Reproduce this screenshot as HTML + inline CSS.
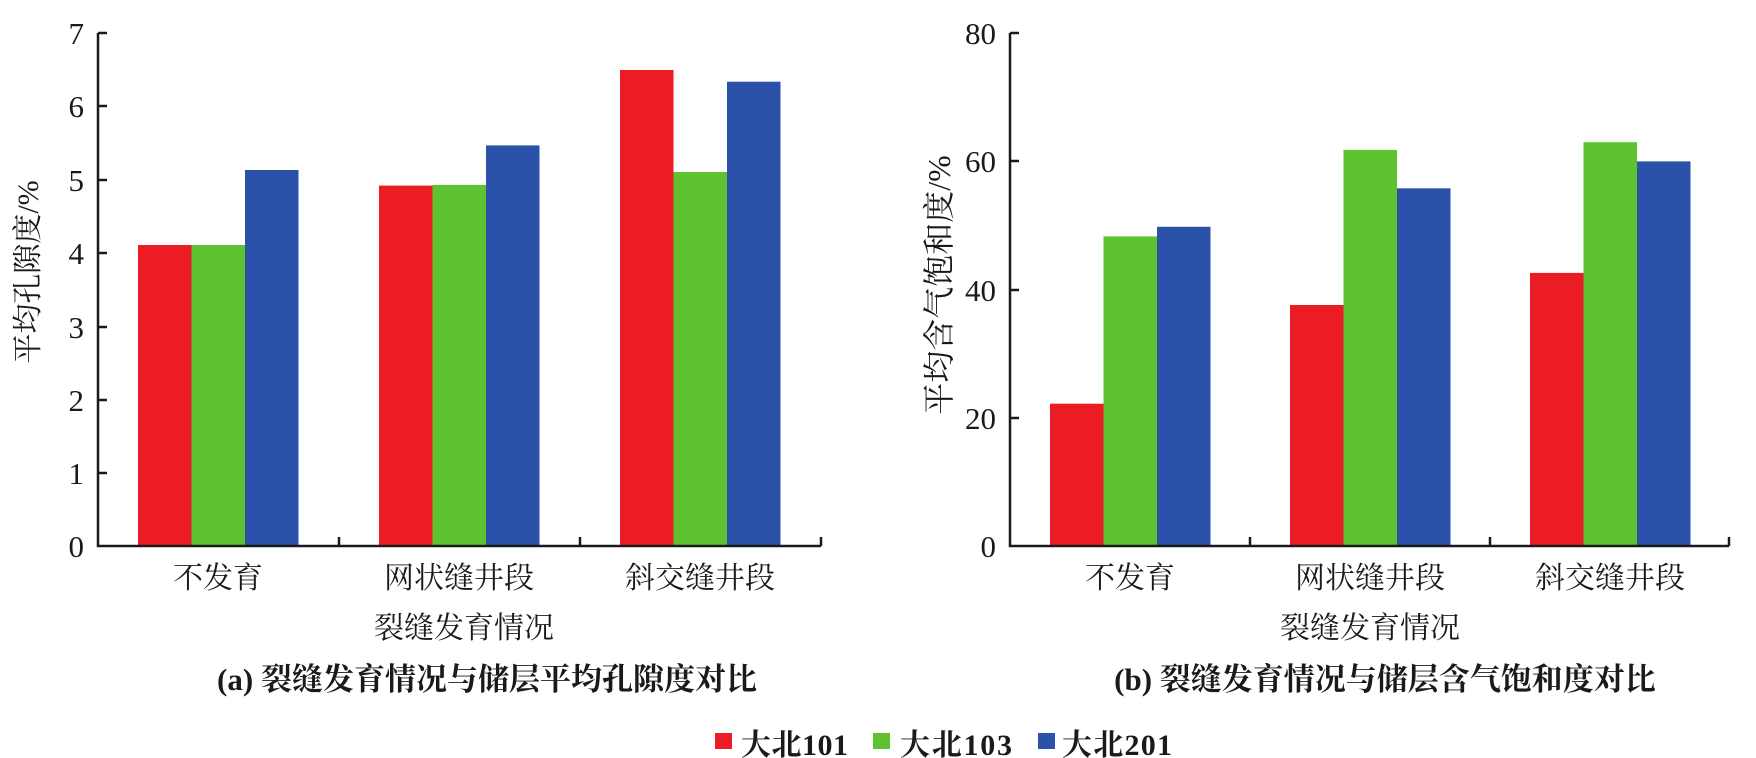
<!DOCTYPE html>
<html><head><meta charset="utf-8"><style>
body{margin:0;background:#fff}
svg{display:block}
text{font-family:"Liberation Serif","Noto Serif CJK SC",serif;fill:#1a1a1a}
</style></head><body>
<svg width="1756" height="758" viewBox="0 0 1756 758" xmlns="http://www.w3.org/2000/svg">
<g>
<rect x="138" y="245" width="53.5" height="301" fill="#ec1c24"/>
<rect x="191.5" y="245" width="53.5" height="301" fill="#5fc231"/>
<rect x="245" y="170" width="53.5" height="376" fill="#2c51a8"/>
<rect x="379" y="185.6" width="53.5" height="360.4" fill="#ec1c24"/>
<rect x="432.5" y="184.9" width="53.5" height="361.1" fill="#5fc231"/>
<rect x="486" y="145.4" width="53.5" height="400.6" fill="#2c51a8"/>
<rect x="620" y="70" width="53.5" height="476" fill="#ec1c24"/>
<rect x="673.5" y="172" width="53.5" height="374" fill="#5fc231"/>
<rect x="727" y="81.7" width="53.5" height="464.3" fill="#2c51a8"/>
<path d="M98 33V546H821M98 33h9M98 106h9M98 180h9M98 253h9M98 327h9M98 400h9M98 473h9M339 546v-9M580 546v-9M821 546v-9" stroke="#1a1a1a" stroke-width="2.5" fill="none"/>
<g font-size="31" text-anchor="end">
<text x="84" y="44">7</text><text x="84" y="117">6</text><text x="84" y="191">5</text><text x="84" y="264">4</text><text x="84" y="338">3</text><text x="84" y="411">2</text><text x="84" y="484">1</text><text x="84" y="557">0</text>
</g>
<text transform="translate(38,272) rotate(-90)" font-size="30" text-anchor="middle">平均孔隙度/%</text>
<g font-size="30" text-anchor="middle">
<text x="218" y="588">不发育</text><text x="459" y="588">网状缝井段</text><text x="700" y="588">斜交缝井段</text>
<text x="464" y="638">裂缝发育情况</text>
<text x="487" y="690" font-weight="bold" font-size="31">(a) 裂缝发育情况与储层平均孔隙度对比</text>
</g>
</g>
<g>
<rect x="1050" y="403.7" width="53.5" height="142.3" fill="#ec1c24"/>
<rect x="1103.5" y="236.4" width="53.5" height="309.6" fill="#5fc231"/>
<rect x="1157" y="226.8" width="53.5" height="319.2" fill="#2c51a8"/>
<rect x="1290" y="305" width="53.5" height="241" fill="#ec1c24"/>
<rect x="1343.5" y="149.9" width="53.5" height="396.1" fill="#5fc231"/>
<rect x="1397" y="188.3" width="53.5" height="357.7" fill="#2c51a8"/>
<rect x="1530" y="272.9" width="53.5" height="273.1" fill="#ec1c24"/>
<rect x="1583.5" y="142.2" width="53.5" height="403.8" fill="#5fc231"/>
<rect x="1637" y="161.4" width="53.5" height="384.6" fill="#2c51a8"/>
<path d="M1010 33V546H1729M1010 33h9M1010 161h9M1010 290h9M1010 418h9M1250 546v-9M1490 546v-9M1729 546v-9" stroke="#1a1a1a" stroke-width="2.5" fill="none"/>
<g font-size="31" text-anchor="end">
<text x="996" y="44">80</text><text x="996" y="172">60</text><text x="996" y="301">40</text><text x="996" y="429">20</text><text x="996" y="557">0</text>
</g>
<text transform="translate(950,285) rotate(-90)" font-size="32" text-anchor="middle">平均含气饱和度/%</text>
<g font-size="30" text-anchor="middle">
<text x="1130" y="588">不发育</text><text x="1370" y="588">网状缝井段</text><text x="1610" y="588">斜交缝井段</text>
<text x="1370" y="638">裂缝发育情况</text>
<text x="1385" y="690" font-weight="bold" font-size="31">(b) 裂缝发育情况与储层含气饱和度对比</text>
</g>
</g>
<rect x="715" y="733" width="17" height="16" fill="#ec1c24"/>
<rect x="873" y="733" width="17" height="16" fill="#5fc231"/>
<rect x="1038" y="733" width="17" height="16" fill="#2c51a8"/>
<g font-size="30" font-weight="bold">
<text x="741" y="755" textLength="107">大北101</text>
<text x="900" y="755" textLength="112">大北103</text>
<text x="1062" y="755" textLength="110">大北201</text>
</g>
</svg>
</body></html>
